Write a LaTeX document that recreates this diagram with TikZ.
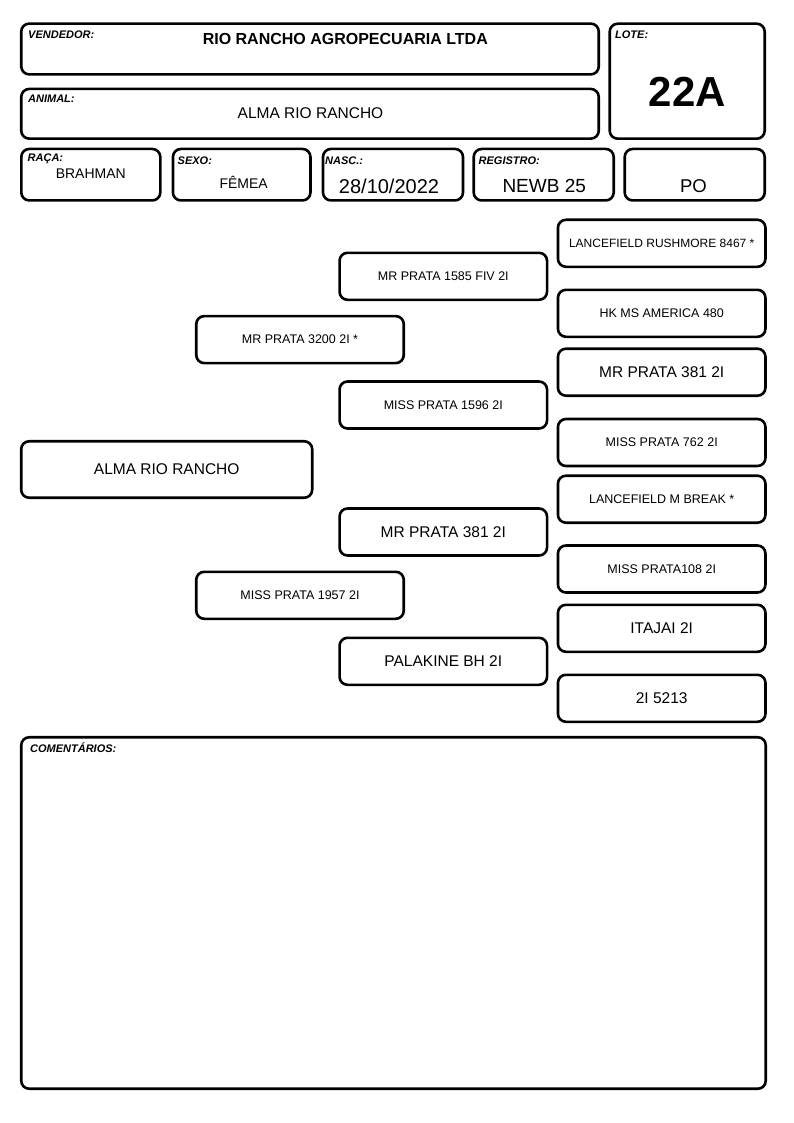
\documentclass[tikz,border=0pt]{standalone}
\usepackage{fontspec}
\setmainfont{Liberation Sans}
\tikzset{
  caja/.style={draw, line width=2.6pt, rounded corners=8pt, inner sep=0pt},
  ped/.style={caja, minimum width=207.5, minimum height=47},
  rotulo/.style={anchor=base west, inner sep=0pt, font=\fontsize{11}{13}\selectfont\bfseries\itshape},
  valor/.style={anchor=base, inner sep=0pt},
  chico/.style={font=\fontsize{12.5}{14}\selectfont},
  grande/.style={font=\fontsize{15.5}{18}\selectfont},
}
\begin{document}
\begin{tikzpicture}[x=1pt, y=-1pt]
\useasboundingbox (0,0) rectangle (794,1123);

% cabecera
\node [caja, minimum width=577.5, minimum height=50.8] (vendedor) at (310,49) {};
\node [caja, minimum width=577.5, minimum height=49.7] (animal) at (310,113.8) {};
\node [caja, minimum width=155, minimum height=115] (lote) at (687.2,81.2) {};
\node [caja, minimum width=139, minimum height=51.5] (raza) at (90.8,174.7) {};
\node [caja, minimum width=137.5, minimum height=51.5] (sexo) at (241.7,174.7) {};
\node [caja, minimum width=140, minimum height=51.5] (nasc) at (393,174.7) {};
\node [caja, minimum width=140, minimum height=51.5] (registro) at (543.7,174.7) {};
\node [caja, minimum width=140, minimum height=51.5] (po) at (694.7,174.7) {};

\node [rotulo] (lvendedor) at (28,38.5) {VENDEDOR:};
\node [rotulo] (lanimal) at (28,102.5) {ANIMAL:};
\node [rotulo] (llote) at (615,38.5) {LOTE:};
\node [rotulo] (lraza) at (27.5,161.5) {RAÇA:};
\node [rotulo] (lsexo) at (177.5,165) {SEXO:};
\node [rotulo] (lnasc) at (325,165) {NASC.:};
\node [rotulo] (lregistro) at (478.5,164.5) {REGISTRO:};

\node [valor, font=\fontsize{16}{19}\selectfont\bfseries] (tvendedor) at (345.3,44.2) {RIO RANCHO AGROPECUARIA LTDA};
\node [valor, grande] (tanimal) at (310.5,118.5) {ALMA RIO RANCHO};
\node [valor, font=\fontsize{42}{48}\selectfont\bfseries] (tlote) at (687.5,106.6) {22A};
\node [valor, font=\fontsize{14}{16}\selectfont] (traza) at (90.8,178.3) {BRAHMAN};
\node [valor, font=\fontsize{14}{16}\selectfont] (tsexo) at (243.7,189) {FÊMEA};
\node [valor, font=\fontsize{20}{23}\selectfont] (tnasc) at (389,193.3) {28/10/2022};
\node [valor, font=\fontsize{19}{22}\selectfont] (tregistro) at (544.2,192.3) {NEWB 25};
\node [valor, font=\fontsize{18.5}{21}\selectfont] (tpo) at (693.4,192.3) {PO};

% genealogia
\node [caja, grande, minimum width=291, minimum height=56.5] (alma) at (166.7,469.5) {ALMA RIO RANCHO};

\node [ped, chico] (pai) at (300,339.6) {MR PRATA 3200 2I *};
\node [ped, chico] (mae) at (300,595.3) {MISS PRATA 1957 2I};

\node [ped, chico] (avopai) at (443.3,276.3) {MR PRATA 1585 FIV 2I};
\node [ped, chico] (avapai) at (443.3,405) {MISS PRATA 1596 2I};
\node [ped, grande] (avomae) at (443.3,532) {MR PRATA 381 2I};
\node [ped, grande] (avamae) at (443.3,661.3) {PALAKINE BH 2I};

\node [ped, font=\fontsize{12}{14}\selectfont] (bis1) at (661.7,243.3) {LANCEFIELD RUSHMORE 8467 *};
\node [ped, chico] (bis2) at (661.7,313.3) {HK MS AMERICA 480};
\node [ped, grande] (bis3) at (661.7,372.2) {MR PRATA 381 2I};
\node [ped, chico] (bis4) at (661.7,442.5) {MISS PRATA 762 2I};
\node [ped, chico] (bis5) at (661.7,499.2) {LANCEFIELD M BREAK *};
\node [ped, chico] (bis6) at (661.7,569) {MISS PRATA108 2I};
\node [ped, grande] (bis7) at (661.7,628.3) {ITAJAI 2I};
\node [ped, grande] (bis8) at (661.7,698.3) {2I 5213};

% comentarios
\node [caja, minimum width=744.5, minimum height=351.5] (coment) at (393.5,913) {};
\node [rotulo] (lcoment) at (30,752.5) {COMENTÁRIOS:};
\end{tikzpicture}
\end{document}
